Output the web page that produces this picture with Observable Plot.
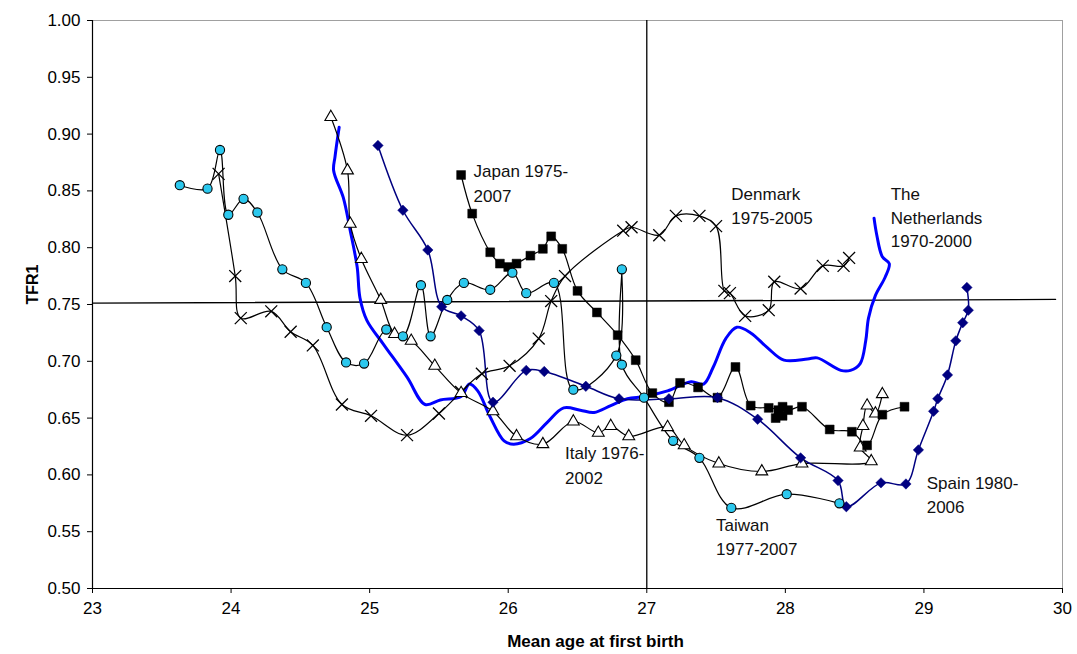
<!DOCTYPE html>
<html>
<head>
<meta charset="utf-8">
<script src="https://cdn.jsdelivr.net/npm/d3@7"></script>
<script src="https://cdn.jsdelivr.net/npm/@observablehq/plot@0.6"></script>
<style>
  html, body { margin: 0; padding: 0; background: #fff; }
</style>
</head>
<body>
<div id="chart"></div>
<script>
// ---- Data ----
const xTicks = [23, 24, 25, 26, 27, 28, 29, 30];
const yTicks = [0.50, 0.55, 0.60, 0.65, 0.70, 0.75, 0.80, 0.85, 0.90, 0.95, 1.00];

const taiwanAge = [23.63,23.83,23.92,23.98,24.09,24.19,24.37,24.54,24.69,24.83,24.96,25.12,25.24,25.37,25.44,25.56,25.68,25.87,26.03,26.13,26.33,26.47,26.78,26.82,26.82,26.98,27.19,27.38,27.61,28.01,28.39];
const taiwanTfr = [0.855,0.852,0.886,0.829,0.843,0.831,0.781,0.769,0.730,0.699,0.698,0.728,0.722,0.767,0.722,0.754,0.769,0.763,0.778,0.760,0.769,0.675,0.705,0.781,0.697,0.668,0.630,0.615,0.571,0.583,0.575];

const denmarkAge = [23.91,24.03,24.07,24.29,24.43,24.59,24.80,25.01,25.27,25.50,25.66,25.81,26.01,26.22,26.31,26.41,26.83,26.89,27.09,27.21,27.38,27.50,27.56,27.60,27.71,27.88,27.92,28.11,28.27,28.42,28.46];
const denmarkTfr = [0.865,0.775,0.738,0.744,0.726,0.714,0.662,0.652,0.635,0.654,0.673,0.689,0.696,0.720,0.753,0.775,0.815,0.818,0.811,0.828,0.828,0.819,0.762,0.760,0.740,0.745,0.770,0.764,0.784,0.784,0.791];

const italyAge = [24.72,24.84,24.86,24.94,25.08,25.18,25.30,25.47,25.66,25.89,26.06,26.25,26.47,26.65,26.74,26.87,27.15,27.27,27.52,27.83,28.12,28.62,28.54,28.56,28.59,28.65,28.70];
const italyTfr = [0.915,0.868,0.821,0.790,0.754,0.724,0.718,0.696,0.672,0.656,0.634,0.627,0.647,0.637,0.643,0.634,0.642,0.626,0.610,0.603,0.610,0.612,0.624,0.643,0.661,0.654,0.671];

const japanAge = [25.66,25.74,25.87,25.94,26.00,26.06,26.16,26.25,26.31,26.39,26.50,26.64,26.79,26.92,27.04,27.16,27.24,27.37,27.51,27.64,27.75,27.88,27.95,27.93,27.98,27.98,28.02,28.12,28.32,28.48,28.59,28.70,28.86];
const japanTfr = [0.864,0.830,0.796,0.786,0.783,0.786,0.793,0.799,0.810,0.799,0.762,0.743,0.723,0.701,0.672,0.664,0.681,0.677,0.668,0.695,0.661,0.659,0.657,0.650,0.652,0.660,0.657,0.660,0.640,0.638,0.626,0.653,0.660];

const spainAge = [25.06,25.24,25.42,25.52,25.66,25.79,25.89,26.13,26.26,26.56,26.80,27.16,27.51,27.80,28.11,28.38,28.44,28.69,28.87,28.96,29.07,29.10,29.17,29.23,29.28,29.32,29.31];
const spainTfr = [0.890,0.833,0.798,0.748,0.740,0.727,0.664,0.692,0.691,0.678,0.667,0.667,0.668,0.649,0.615,0.595,0.572,0.593,0.592,0.622,0.656,0.667,0.688,0.718,0.734,0.745,0.765];

const netherlandsAge = [24.78,24.75,24.74,24.81,24.86,24.91,24.93,24.98,25.10,25.27,25.40,25.51,25.66,25.72,25.78,25.87,25.97,26.04,26.16,26.28,26.40,26.52,26.62,26.74,26.86,26.98,27.15,27.32,27.41,27.48,27.57,27.65,27.75,27.87,27.99,28.16,28.23,28.40,28.47,28.54,28.58,28.60,28.65,28.72,28.75,28.70,28.66,28.64];
const netherlandsTfr = [0.906,0.880,0.868,0.844,0.815,0.783,0.756,0.736,0.715,0.686,0.662,0.666,0.669,0.680,0.674,0.651,0.630,0.627,0.632,0.646,0.659,0.657,0.655,0.661,0.667,0.669,0.674,0.682,0.680,0.695,0.720,0.730,0.725,0.712,0.701,0.702,0.703,0.692,0.692,0.698,0.718,0.738,0.758,0.774,0.786,0.792,0.811,0.826];

// reference lines
const refAge = [27];
const refLineAge = [23, 29.95];
const refLineTfr = [0.7512, 0.7545];

// annotation labels
const labelText = ["Japan 1975-","2007","Denmark","1975-2005","The","Netherlands","1970-2000","Italy 1976-","2002","Taiwan","1977-2007","Spain 1980-","2006"];
const labelAge  = [25.75,25.75,27.61,27.61,28.76,28.76,28.76,26.41,26.41,27.50,27.50,29.02,29.02];
const labelTfr  = [0.867,0.845,0.847,0.826,0.847,0.826,0.805,0.619,0.597,0.555,0.534,0.592,0.571];

// ---- build rows ----
const rows = (ages, tfrs) => ages.map((a, i) => ({age: a, tfr: tfrs[i]}));
const taiwan = rows(taiwanAge, taiwanTfr);
const denmark = rows(denmarkAge, denmarkTfr);
const italy = rows(italyAge, italyTfr);
const japan = rows(japanAge, japanTfr);
const spain = rows(spainAge, spainTfr);
const netherlands = rows(netherlandsAge, netherlandsTfr);
const hLine = rows(refLineAge, refLineTfr);
const labels = labelText.map((t, i) => ({text: t, age: labelAge[i], tfr: labelTfr[i]}));

const FONT = "'Liberation Sans', Arial, sans-serif";
const curve = "catmull-rom";

const chart = Plot.plot({
  width: 1077,
  height: 654,
  marginLeft: 92,
  marginRight: 15,
  marginTop: 20,
  marginBottom: 66,
  x: {domain: [23, 30], label: null},
  y: {domain: [0.5, 1.0], label: null},
  style: {fontFamily: FONT, fontSize: "17px", color: "black", background: "white", overflow: "visible"},
  marks: [
    Plot.frame({stroke: "#a0a0a0", strokeWidth: 1}),
    Plot.axisX({ticks: xTicks, tickFormat: d => String(d), tickSize: 5, tickPadding: 8, label: null, fontSize: 17}),
    Plot.axisY({ticks: yTicks, tickFormat: d => d.toFixed(2), tickSize: 5, tickPadding: 7, label: null, fontSize: 17}),
    Plot.ruleX([23], {stroke: "black", strokeWidth: 1.2}),
    Plot.ruleY([0.5], {stroke: "black", strokeWidth: 1.2}),
    // reference lines
    Plot.ruleX(refAge, {stroke: "black", strokeWidth: 1.3}),
    Plot.line(hLine, {x: "age", y: "tfr", stroke: "black", strokeWidth: 1.3}),
    // lines
    Plot.line(netherlands, {x: "age", y: "tfr", stroke: "#0000ff", strokeWidth: 3, curve}),
    Plot.line(denmark, {x: "age", y: "tfr", stroke: "black", strokeWidth: 1.2, curve}),
    Plot.line(italy, {x: "age", y: "tfr", stroke: "black", strokeWidth: 1.2, curve}),
    Plot.line(taiwan, {x: "age", y: "tfr", stroke: "black", strokeWidth: 1.2, curve}),
    Plot.line(japan, {x: "age", y: "tfr", stroke: "black", strokeWidth: 1.2, curve}),
    Plot.line(spain, {x: "age", y: "tfr", stroke: "#000080", strokeWidth: 1.5, curve}),
    // markers
    Plot.dot(denmark, {x: "age", y: "tfr", symbol: "times", r: 5.5, stroke: "black", strokeWidth: 1.3}),
    Plot.dot(italy, {x: "age", y: "tfr", symbol: "triangle", r: 4.4, fill: "white", stroke: "black", strokeWidth: 1.1}),
    Plot.dot(japan, {x: "age", y: "tfr", symbol: "square", r: 5, fill: "black", stroke: "black", strokeWidth: 0.5}),
    Plot.dot(spain, {x: "age", y: "tfr", symbol: "diamond2", r: 4.7, fill: "#000080", stroke: "#000080", strokeWidth: 0.5}),
    Plot.dot(taiwan, {x: "age", y: "tfr", symbol: "circle", r: 4.6, fill: "#2cc8ee", stroke: "black", strokeWidth: 1.1}),
    // annotations
    Plot.text(labels, {x: "age", y: "tfr", text: "text", textAnchor: "start", lineAnchor: "middle", fontSize: 17, fill: "#111"}),
    // axis titles
    Plot.text(["Mean age at first birth"], {frameAnchor: "bottom", dx: 18, dy: 53, lineAnchor: "middle", fontSize: 17, fontWeight: "bold", fill: "black"}),
    Plot.text(["TFR1"], {frameAnchor: "left", dx: -60, rotate: -90, lineAnchor: "middle", fontSize: 16, fontWeight: "bold", fill: "black"})
  ]
});

document.getElementById("chart").appendChild(chart);
</script>
</body>
</html>
